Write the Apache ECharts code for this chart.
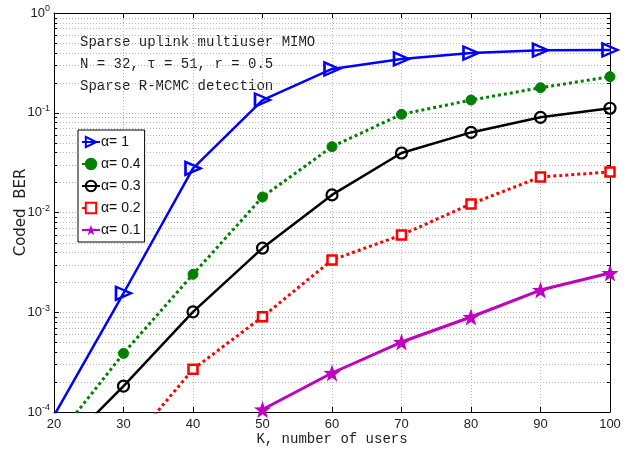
<!DOCTYPE html>
<html>
<head>
<meta charset="utf-8">
<script src="https://cdn.jsdelivr.net/npm/echarts@6/dist/echarts.min.js"></script>
<style>
  html, body { margin: 0; padding: 0; background: #fff; }
  #chart { width: 633px; height: 452px; }
</style>
</head>
<body>
<div id="chart"></div>
<script>
// Number of users K
const kValues = [20, 30, 40, 50, 60, 70, 80, 90, 100];

// Coded BER per sparsity level (points below 1e-4 lie under the axis and are clipped)
const berAlpha1  = [9.2e-5, 1.55e-3, 0.0277, 0.134, 0.275, 0.346, 0.397, 0.424, 0.426];
const berAlpha04 = [5.1e-5, 3.87e-4, 2.4e-3, 0.0143, 0.0457, 0.0965, 0.134, 0.178, 0.230];
const berAlpha03 = [3.6e-5, 1.82e-4, 1.01e-3, 4.4e-3, 0.0150, 0.0395, 0.0635, 0.090, 0.111];
const berAlpha02 = ['-', 4.0e-5, 2.68e-4, 9.0e-4, 3.34e-3, 5.95e-3, 0.0122, 0.0227, 0.0255];
const berAlpha01 = ['-', '-', '-', 1.06e-4, 2.46e-4, 5.03e-4, 8.96e-4, 1.67e-3, 2.47e-3];

const seriesNames = ['\u03b1= 1', '\u03b1= 0.4', '\u03b1= 0.3', '\u03b1= 0.2', '\u03b1= 0.1'];

// Axis ranges and tick labels
const kMin = 20, kMax = 100, kStep = 10;
const berMin = 1e-4, berMax = 1;
const xTickLabels = ['20', '30', '40', '50', '60', '70', '80', '90', '100'];

const annotationLines = [
  'Sparse uplink multiuser MIMO',
  'N = 32, \u03c4 = 51, r = 0.5',
  'Sparse R-MCMC detection'
];

// Intermediate log-grid values (2..9 within each decade)
const minorLevels = [];
for (let e = -4; e < 0; e++) {
  for (let m = 2; m <= 9; m++) minorLevels.push([kMin, m * Math.pow(10, e)]);
}

const pair = (ys) => kValues.map((k, i) => [k, ys[i]]);

const gridGray = '#b4b4b4';
const chart = echarts.init(document.getElementById('chart'), null, { renderer: 'canvas' });

const commonX = {
  type: 'value', min: kMin, max: kMax, interval: kStep,
  axisLine: { show: true, lineStyle: { color: '#000', width: 1 } },
  axisTick: { show: true, inside: true, length: 5, lineStyle: { color: '#000' } },
  splitLine: { show: false }
};
const commonY = {
  type: 'log', logBase: 10, min: berMin, max: berMax, splitNumber: 4,
  axisLine: { show: true, lineStyle: { color: '#000', width: 1 } },
  axisTick: { show: true, inside: true, length: 5, lineStyle: { color: '#000' } },
  splitLine: { show: false }
};

chart.setOption({
  animation: false,
  backgroundColor: '#fff',
  grid: { left: 54, right: 23, top: 13, bottom: 40, containLabel: false, outerBoundsMode: 'none' },
  xAxis: [
    Object.assign({}, commonX, {
      position: 'bottom',
      name: 'K, number of users',
      nameLocation: 'middle',
      nameGap: 20,
      nameMoveOverlap: false,
      nameTextStyle: { fontFamily: 'Liberation Mono', fontSize: 14, color: '#222' },
      axisLabel: {
        margin: 6, fontFamily: 'Liberation Sans', fontSize: 13, color: '#222',
        formatter: (v) => xTickLabels[Math.round((v - kMin) / kStep)] || ''
      },
      splitLine: { show: true, lineStyle: { color: gridGray, type: [1, 2], width: 1 } }
    }),
    Object.assign({}, commonX, { position: 'top', axisLabel: { show: false } })
  ],
  yAxis: [
    Object.assign({}, commonY, {
      position: 'left',
      name: 'Coded  BER',
      nameLocation: 'middle',
      nameGap: 25,
      nameMoveOverlap: false,
      nameTextStyle: { fontFamily: 'DejaVu Sans', fontSize: 15, color: '#222' },
      axisLabel: {
        margin: 4, color: '#222',
        formatter: (v) => '{b|10}{e|' + Math.round(Math.log10(v)) + '}',
        rich: {
          b: { fontFamily: 'Liberation Sans', fontSize: 13, color: '#222' },
          e: { fontFamily: 'Liberation Sans', fontSize: 9, color: '#222', padding: [0, 0, 8, 0] }
        }
      },
      splitLine: { show: true, lineStyle: { color: gridGray, type: [1, 2], width: 1 } }
    }),
    Object.assign({}, commonY, { position: 'right', axisLabel: { show: false } })
  ],
  legend: {
    orient: 'vertical',
    left: 78, top: 130,
    padding: [5, 4, 5, 3],
    itemGap: 8,
    itemWidth: 18,
    itemHeight: 13,
    backgroundColor: '#fff',
    borderColor: '#000',
    borderWidth: 1,
    borderRadius: 0,
    textStyle: { fontFamily: 'Liberation Sans', fontSize: 14, color: '#111', padding: [0, 0, 0, -4] },
    data: seriesNames
  },
  graphic: annotationLines.map((t, i) => ({
    type: 'text',
    left: 80,
    top: 35 + i * 22,
    silent: true,
    style: { text: t, fontFamily: 'Liberation Mono', fontSize: 14, fill: '#222' }
  })),
  series: [
    {
      // Minor log grid lines with inward ticks on both vertical axes
      type: 'custom',
      silent: true,
      z: 1,
      xAxisIndex: 0, yAxisIndex: 0,
      data: minorLevels,
      renderItem: (params, api) => {
        const p = api.coord([api.value(0), api.value(1)]);
        const cs = params.coordSys;
        const xl = cs.x, xr = cs.x + cs.width, y = Math.round(p[1]) + 0.5;
        return {
          type: 'group',
          children: [
            { type: 'line', shape: { x1: xl, y1: y, x2: xr, y2: y },
              style: { stroke: gridGray, lineWidth: 1, lineDash: [1, 2] } },
            { type: 'line', shape: { x1: xl, y1: y, x2: xl + 3, y2: y },
              style: { stroke: '#000', lineWidth: 1 } },
            { type: 'line', shape: { x1: xr - 3, y1: y, x2: xr, y2: y },
              style: { stroke: '#000', lineWidth: 1 } }
          ]
        };
      }
    },
    {
      name: seriesNames[0], type: 'line', data: pair(berAlpha1), clip: true, z: 10,
      symbol: 'triangle', symbolSize: [13, 15], symbolRotate: -90, showAllSymbol: true,
      lineStyle: { color: '#0000ff', width: 2.5 },
      itemStyle: { color: 'rgba(255,255,255,0)', borderColor: '#0000ff', borderWidth: 2.5 }
    },
    {
      name: seriesNames[1], type: 'line', data: pair(berAlpha04), clip: true, z: 10,
      symbol: 'circle', symbolSize: 10,
      lineStyle: { color: '#008000', width: 3, type: [3, 3] },
      itemStyle: { color: '#008000', borderColor: '#008000', borderWidth: 1 }
    },
    {
      name: seriesNames[2], type: 'line', data: pair(berAlpha03), clip: true, z: 10,
      symbol: 'circle', symbolSize: 11,
      lineStyle: { color: '#000', width: 2.5 },
      itemStyle: { color: 'rgba(255,255,255,0)', borderColor: '#000', borderWidth: 2.2 }
    },
    {
      name: seriesNames[3], type: 'line', data: pair(berAlpha02), clip: true, z: 10,
      symbol: 'rect', symbolSize: 9,
      lineStyle: { color: '#ff0000', width: 3, type: [3, 3] },
      itemStyle: { color: '#fff', borderColor: '#ff0000', borderWidth: 2.5 }
    },
    {
      name: seriesNames[4], type: 'line', data: pair(berAlpha01), clip: true, z: 10,
      symbol: 'path://M0,-10 L2.35,-3.24 L9.51,-3.09 L3.8,1.24 L5.88,8.09 L0,4 L-5.88,8.09 L-3.8,1.24 L-9.51,-3.09 L-2.35,-3.24 Z',
      symbolSize: 17,
      lineStyle: { color: '#bf00bf', width: 3 },
      itemStyle: { color: '#bf00bf', borderColor: '#bf00bf', borderWidth: 0 }
    }
  ]
});
</script>
</body>
</html>
